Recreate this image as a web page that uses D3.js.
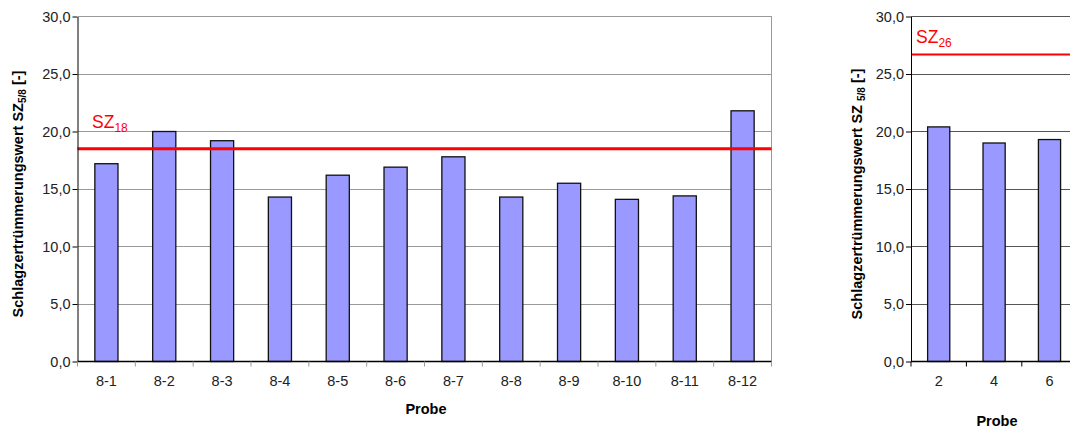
<!DOCTYPE html>
<html><head><meta charset="utf-8">
<script src="https://cdn.jsdelivr.net/npm/d3@7"></script>
<style>
body{margin:0;background:#fff;}
svg{display:block;font-family:"Liberation Sans",Arial,sans-serif;}
</style></head>
<body><svg id="c" width="1070" height="431"></svg>
<script>
const categoriesA = ["8-1","8-2","8-3","8-4","8-5","8-6","8-7","8-8","8-9","8-10","8-11","8-12"];
const valuesA = [17.2,20.0,19.2,14.3,16.2,16.9,17.8,14.3,15.5,14.1,14.4,21.8];
const limitA = 18.5;
const categoriesB = ["2","4","6"];
const valuesB = [20.4,19.0,19.3];
const limitB = 26.7;
const yTicks = [0,5,10,15,20,25,30];

const svg = d3.select("#c");
const fmt = v => d3.format(".1f")(v).replace(".", ",");

function panel(o){
  const g = svg.append("g");
  const y = d3.scaleLinear().domain([0,30]).range([o.bottom, o.top]);
  const x = d3.scaleBand().domain(o.cats).range([o.left, o.left + o.band*o.cats.length]).paddingInner(0).paddingOuter(0);
  g.selectAll("line.grid").data(yTicks.filter(d=>d>0)).join("line")
    .attr("x1", o.left).attr("x2", o.right)
    .attr("y1", d=>y(d)).attr("y2", d=>y(d))
    .attr("stroke", o.gridColor).attr("stroke-width", 1).attr("shape-rendering","crispEdges");
  if (o.border) {
    g.append("line").attr("x1", o.right).attr("x2", o.right).attr("y1", o.top).attr("y2", o.bottom)
      .attr("stroke", o.gridColor).attr("shape-rendering","crispEdges");
  }
  const bw = o.band*0.4;
  g.selectAll("rect.bar").data(o.vals).join("rect")
    .attr("x", (d,i)=>x(o.cats[i]) + (o.band-bw)/2)
    .attr("y", d=>y(d))
    .attr("width", bw)
    .attr("height", d=>y(0)-y(d))
    .attr("fill", "#9999FF").attr("stroke", "#111").attr("stroke-width", 1.3);
  g.append("line").attr("x1", o.left).attr("x2", o.right)
    .attr("y1", y(o.limit)).attr("y2", y(o.limit))
    .attr("stroke", "#FF0000").attr("stroke-width", o.limitW);
  const ya = g.append("g").attr("transform", `translate(${o.left},0)`)
    .call(d3.axisLeft(y).tickValues(yTicks).tickFormat(fmt).tickSize(5).tickSizeOuter(0));
  ya.select(".domain").attr("stroke","#000");
  ya.selectAll(".tick line").attr("stroke","#000");
  ya.selectAll("text").attr("font-size", 14.5).attr("fill","#222").attr("x", -7).attr("font-family","Liberation Sans,Arial,sans-serif");
  const xa = g.append("g").attr("transform", `translate(0,${o.bottom})`)
    .call(d3.axisBottom(x).tickSize(0).tickSizeOuter(0));
  xa.select(".domain").remove();
  g.append("line").attr("x1", o.left).attr("x2", o.right).attr("y1", o.bottom).attr("y2", o.bottom)
    .attr("stroke","#000").attr("stroke-width",1.3);
  xa.selectAll("text").attr("font-size", 14.5).attr("fill","#222").attr("dy", "0").attr("y", 24)
    .attr("font-family","Liberation Sans,Arial,sans-serif");
  const edges = o.cats.map(c=>x(c)).concat([x(o.cats[o.cats.length-1])+o.band]);
  g.selectAll("line.xt").data(edges).join("line")
    .attr("x1", d=>d).attr("x2", d=>d).attr("y1", o.bottom).attr("y2", o.bottom+5)
    .attr("stroke", o.xtickColor);
  g.append("text").attr("x", o.xTitleX).attr("y", o.xTitleY).attr("text-anchor","middle")
    .attr("font-size", 14.5).attr("font-weight","bold").attr("fill","#000").text("Probe");
  const t = g.append("text").attr("transform", `translate(${o.yTitleX},${(o.top+o.bottom)/2 + 5}) rotate(-90)`)
    .attr("text-anchor","middle").attr("font-size", 14.5).attr("font-weight","bold").attr("fill","#000");
  t.append("tspan").text(o.yTitleSpace ? "Schlagzertrümmerungswert SZ " : "Schlagzertrümmerungswert SZ");
  t.append("tspan").attr("font-size", 10).attr("dy", 3).text("5/8");
  t.append("tspan").attr("dy", -3).text(" [-]");
  const l = g.append("text").attr("x", o.labX).attr("y", o.labY).attr("fill","#FF0000").attr("font-size", 17.5);
  l.append("tspan").text("SZ");
  l.append("tspan").attr("font-size", 12).attr("dy", 4).text(o.labSub);
}

panel({cats:categoriesA, vals:valuesA, limit:limitA, left:77.5, right:771.5, top:16.5, bottom:361.5,
  band:(771.5-77.5)/12, gridColor:"#999", border:true, xtickColor:"#999", limitW:3,
  xTitleX:426, xTitleY:414, yTitleX:23, yTitleSpace:false, labX:92, labY:128, labSub:"18"});
panel({cats:categoriesB, vals:valuesB, limit:limitB, left:911, right:1072, top:16.5, bottom:361.5,
  band:55.4, gridColor:"#555", border:false, xtickColor:"#000", limitW:2,
  xTitleX:997, xTitleY:426, yTitleX:862, yTitleSpace:true, labX:916, labY:43, labSub:"26"});
</script></body></html>
